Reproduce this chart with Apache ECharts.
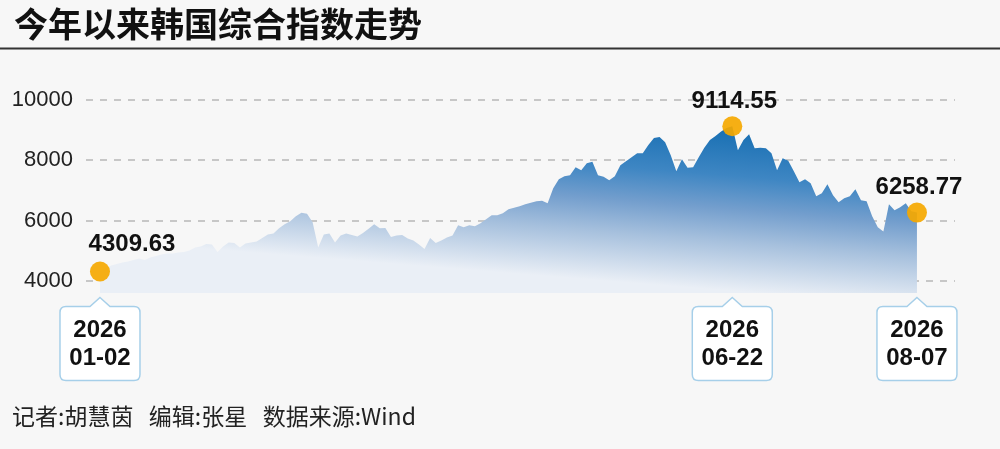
<!DOCTYPE html>
<html>
<head>
<meta charset="utf-8">
<script src="https://cdn.jsdelivr.net/npm/echarts@6/dist/echarts.min.js"></script>
<style>
html,body{margin:0;padding:0;background:#f7f7f7;}
#chart{width:1000px;height:449px;}
</style>
</head>
<body>
<div id="chart"></div>
<script>
// ---- data ----
const titleText = '今年以来韩国综合指数走势';
const footerText = '记者:胡慧茵   编辑:张星   数据来源:Wind';
const startDate = '2026-01-02';
const endDate = '2026-08-07';
const holidays = ['2026-02-16','2026-02-17','2026-02-18','2026-03-02','2026-05-01','2026-05-05','2026-05-25','2026-06-03','2026-07-17'];
const values = [
4309.63,4411,4510,4560,4610,4643,4693,4742,4693,4776,
4825,4875,4908,4908,4941,4958,5008,5107,5141,5224,
5207,4958,5141,5274,5257,5107,5240,5274,5307,5423,
5539,5572,5738,5870,5970,6136,6252,6219,5937,5107,
5539,5572,5274,5505,5572,5522,5472,5588,5721,5870,
5738,5754,5456,5505,5522,5406,5340,5207,5058,5423,
5257,5340,5439,5505,5837,5771,5837,5804,5903,6036,
6169,6169,6235,6368,6418,6467,6534,6584,6633,6650,
6567,7065,7363,7463,7496,7761,7661,7894,7943,7496,
7446,7330,7463,7828,7960,8093,8226,8226,8491,8723,
8756,8590,8159,7628,8026,7745,7761,8093,8408,8657,
8789,8938,9055,9114.55,8325,8657,8850,8391,8408,8391,
8225,7662,8060,7977,7628,7263,7363,7230,6799,6899,
7197,6832,6600,6733,6799,7031,6666,6633,6136,5771,
5638,6534,6335,6434,6567,6302,6258.77];
const highlightDates = ['2026-01-02','2026-06-22','2026-08-07'];
const yTicks = [4000, 6000, 8000, 10000];

// trading-day categories (weekdays minus KRX holidays)
function tradingDays(s, e, hol) {
  const out = [];
  const [sy, sm, sd] = s.split('-').map(Number);
  const [ey, em, ed] = e.split('-').map(Number);
  let t = Date.UTC(sy, sm - 1, sd);
  const end = Date.UTC(ey, em - 1, ed);
  while (t <= end) {
    const d = new Date(t);
    const wd = d.getUTCDay();
    const str = d.getUTCFullYear() + '-' + String(d.getUTCMonth() + 1).padStart(2, '0') + '-' + String(d.getUTCDate()).padStart(2, '0');
    if (wd !== 0 && wd !== 6 && hol.indexOf(str) < 0) out.push(str);
    t += 86400000;
  }
  return out;
}
const dates = tradingDays(startDate, endDate, holidays);

// ---- chart ----
const chart = echarts.init(document.getElementById('chart'));
const yMin = 3600, yMax = 10000;
const seriesData = values.map((v, i) => [i, v]);
const calloutPath = 'path://M40 0 L50 9 L74 9 Q80 9 80 15 L80 77 Q80 83 74 83 L6 83 Q0 83 0 77 L0 15 Q0 9 6 9 L30 9 Z';
const numFont = 'Liberation Sans, Arial, sans-serif';

const marks = [];
highlightDates.forEach((ds, k) => {
  const i = dates.indexOf(ds);
  const v = values[i];
  marks.push({
    coord: [i, v], value: v,
    symbol: 'circle', symbolSize: 20,
    itemStyle: { color: 'rgba(245,168,0,0.92)', borderWidth: 0 },
    label: {
      show: true, position: 'top', distance: k === 0 ? 5 : 3,
      offset: k === 0 ? [32, 0] : [2, 0],
      formatter: v.toFixed(2),
      fontFamily: numFont, fontSize: 24, fontWeight: 'bold', color: '#111'
    }
  });
  const p = ds.split('-');
  marks.push({
    coord: [i, yMin], value: 0,
    symbol: calloutPath, symbolSize: [80, 83], symbolOffset: [0, 46],
    itemStyle: { color: '#ffffff', borderColor: '#a6cfe9', borderWidth: 1.5 },
    label: {
      show: true, position: 'inside', offset: [0, 5],
      formatter: p[0] + '\n' + p[1] + '-' + p[2],
      fontFamily: numFont, fontSize: 24, fontWeight: 'bold', color: '#111', lineHeight: 28
    }
  });
});

chart.setOption({
  animation: false,
  backgroundColor: '#f7f7f7',
  grid: { left: 86, right: 45, top: 99.5, bottom: 156 },
  xAxis: { type: 'value', min: -2.5, max: 152.8, show: false },
  yAxis: {
    type: 'value', min: yMin, max: yMax,
    axisLine: { show: false },
    axisTick: { show: false, customValues: yTicks },
    axisLabel: { customValues: yTicks, margin: 13, fontFamily: numFont, fontSize: 22, color: '#222',
      formatter: v => String(v) },
    splitLine: { show: true, lineStyle: { type: [7, 7], color: '#b8b8b8', width: 1.5 } }
  },
  series: [{
    type: 'line', data: seriesData, symbol: 'none', smooth: false,
    lineStyle: { width: 0, opacity: 0 },
    areaStyle: {
      opacity: 1,
      color: new echarts.graphic.LinearGradient(0.771, 0.0, 0.755, 0.98, [
        { offset: 0, color: 'rgb(22,110,178)' },
        { offset: 0.3, color: 'rgb(62,134,195)' },
        { offset: 0.5, color: 'rgb(115,158,205)' },
        { offset: 0.7, color: 'rgb(166,192,221)' },
        { offset: 1, color: 'rgb(234,239,246)' }
      ])
    },
    markPoint: { data: marks, silent: true }
  }],
  graphic: [
    { type: 'text', left: 14, top: 7, style: { text: titleText, font: 'bold 34px "Noto Sans CJK SC"', fill: '#111' } },
    { type: 'line', shape: { x1: 0, y1: 48.5, x2: 1000, y2: 48.5 }, style: { stroke: '#333', lineWidth: 2 } },
    { type: 'text', left: 12, top: 405, style: { text: footerText, font: '23px "Noto Sans CJK SC"', fill: '#222' } }
  ]
});
</script>
</body>
</html>
